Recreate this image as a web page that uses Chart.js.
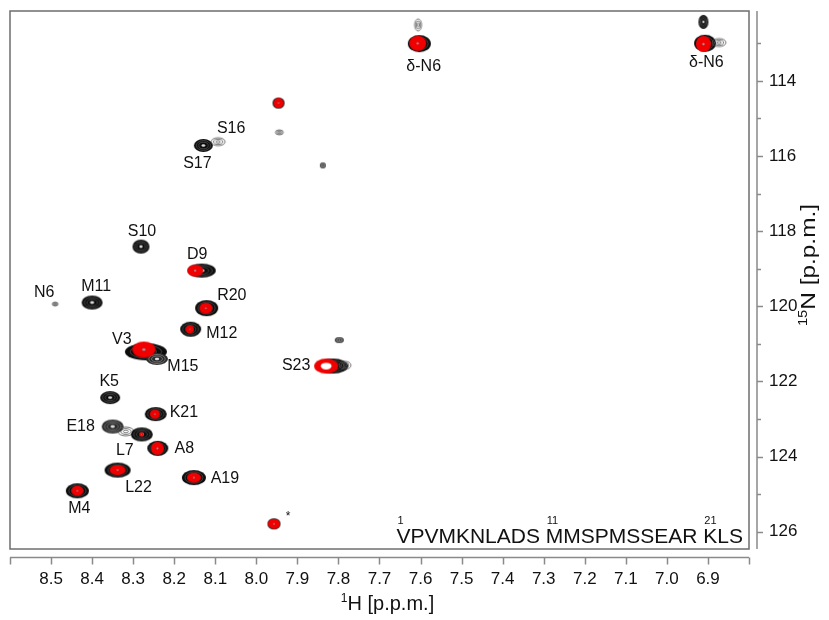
<!DOCTYPE html>
<html>
<head>
<meta charset="utf-8">
<script src="https://cdn.jsdelivr.net/npm/chart.js@4.4.0/dist/chart.umd.min.js"></script>
<style>
  html, body { margin: 0; padding: 0; background: #fff; }
  #wrap { width: 829px; height: 620px; }
</style>
</head>
<body>
<div id="wrap"><canvas id="mycanvas" width="829" height="620"></canvas></div>
<script>
// axis ranges (ppm)
var hRange = [6.8, 8.6];
var nRange = [112.14, 126.46];

// black spectrum peaks: 1H and 15N shifts (ppm)
var blackH = [7.603, 7.606, 6.907, 6.911, 6.873, 7.946, 7.944, 7.838, 8.129, 8.093,
              8.281, 8.133, 8.490, 8.400, 8.121, 8.160, 8.269, 8.242, 7.798, 7.813,
              7.784, 8.356, 8.245, 8.350, 8.318, 8.279, 8.240, 8.338, 8.152, 8.436, 7.957];
var blackN = [113.01, 112.51, 113.00, 112.43, 112.98, 114.59, 115.37, 116.25, 115.72, 115.62,
              118.41, 119.05, 119.94, 119.90, 120.05, 120.61, 121.21, 121.40, 120.90, 121.59,
              121.57, 122.43, 122.87, 123.20, 123.33, 123.41, 123.78, 124.36, 124.56, 124.91, 125.79];

// red spectrum peaks
var redH = [7.607, 6.911, 7.946, 8.149, 8.123, 8.162, 8.274, 7.830, 8.247, 8.280, 8.241, 8.338, 8.152, 8.436, 7.957];
var redN = [113.00, 113.02, 114.59, 119.05, 120.05, 120.61, 121.15, 121.59, 122.87, 123.41, 123.78, 124.36, 124.56, 124.91, 125.79];

// assignments
var resName = ['δ-N6', 'δ-N6', 'S16', 'S17', 'S10', 'D9', 'N6', 'M11', 'R20', 'M12', 'V3',
               'M15', 'S23', 'K5', 'K21', 'E18', 'L7', 'A8', 'L22', 'A19', 'M4', '*'];
var resH = [7.607, 6.911, 8.093, 8.129, 8.281, 8.149, 8.490, 8.400, 8.123, 8.162, 8.274,
            8.247, 7.830, 8.356, 8.247, 8.350, 8.279, 8.241, 8.338, 8.152, 8.436, 7.957];
var resN = [113.00, 113.02, 115.62, 115.72, 118.41, 119.05, 119.94, 119.90, 120.05, 120.61, 121.15,
            121.38, 121.59, 122.43, 122.87, 123.20, 123.41, 123.78, 124.36, 124.56, 124.91, 125.79];

var sequence = 'VPVMKNLADS MMSPMSSEAR KLS';
var seqMarks = [1, 11, 21];

// ---- look of the peaks (pixel sizes) ----
var blackShape = [[23,17,'dark'],[7,12,'light'],[22,17,'dark'],[10,14,'dark'],[14,8,'light'],
                  [12,11,'dark'],[8,5,'light'],[6,6,'mid'],[19,13,'dark'],[14,8,'light'],
                  [17,14,'dark'],[28,14,'dark'],[6,4,'light'],[21,14,'dark'],[23,16,'dark'],
                  [21,15,'dark'],[42,17,'dark'],[22,12,'mid'],[9,6,'mid'],[30,15,'dark'],
                  [12,8,'light'],[20,13,'dark'],[22,14,'dark'],[22,14,'mid'],[16,9,'light'],
                  [22,14,'dark'],[21,15,'dark'],[26,15,'dark'],[24,15,'dark'],[23,15,'dark'],[13,11,'dark']];
var redShape = [[17,15,'red'],[15,16,'red'],[10,10,'red'],[16,12,'red'],[13,11,'red'],
                [8,8,'red'],[23,16,'red'],[24,15,'ring'],[10,9,'red'],[5,4,'red'],
                [13,13,'red'],[16,10,'red'],[14,10,'red'],[12,10,'red'],[12,10,'red']];
var labelOffset = [[6,23],[3,19],[13,-13],[-6,18],[1,-15],[2,-16],[-11,-11],[4,-16],[26,-13],[32,4],[-22,-10],
                   [28,8],[-30,0],[-1,-16],[29,-2],[-32,0],[-17,16],[27,0],[21,17],[31,1],[2,18],[14,-7]];

var FONT = 'Arial, "Liberation Sans", sans-serif';

function makeBlob(w, h, kind) {
  var c = document.createElement('canvas');
  c.width = w + 4; c.height = h + 4;
  var g = c.getContext('2d');
  var cx = c.width / 2, cy = c.height / 2;
  function ell(s) { g.beginPath(); g.ellipse(cx, cy, Math.max(w * s / 2, 0.5), Math.max(h * s / 2, 0.5), 0, 0, Math.PI * 2); }
  if (kind === 'dark' || kind === 'mid') {
    ell(1); g.fillStyle = kind === 'dark' ? '#0c0c0c' : '#2a2a2a'; g.fill();
    g.strokeStyle = kind === 'dark' ? '#6a6a6a' : '#9a9a9a'; g.lineWidth = 0.6;
    [0.75, 0.5].forEach(function (s) { ell(s); g.stroke(); });
    ell(0.2); g.fillStyle = '#dddddd'; g.fill();
  } else if (kind === 'light') {
    g.strokeStyle = '#555'; g.lineWidth = 0.8;
    [1, 0.65, 0.3].forEach(function (s) { ell(s); g.stroke(); });
  } else if (kind === 'red') {
    ell(1); g.fillStyle = '#f00000'; g.fill();
    ell(0.15); g.fillStyle = '#999'; g.fill();
  } else if (kind === 'ring') {
    ell(1); g.fillStyle = '#f00000'; g.fill();
    ell(0.45); g.fillStyle = '#ffffff'; g.fill();
  }
  return c;
}

var blackImgs = blackShape.map(function (s) { return makeBlob(s[0], s[1], s[2]); });
var redImgs = redShape.map(function (s) { return makeBlob(s[0], s[1], s[2]); });

function toPts(xs, ys) {
  return xs.map(function (x, i) { return { x: x, y: ys[i] }; });
}

var spectrumDecor = {
  id: 'spectrumDecor',
  beforeDatasetsDraw: function (chart) {
    var ctx = chart.ctx, a = chart.chartArea;
    ctx.save();
    ctx.strokeStyle = '#6e6e6e';
    ctx.lineWidth = 1.5;
    ctx.strokeRect(a.left, a.top, a.right - a.left, a.bottom - a.top);
    ctx.restore();
  },
  afterDatasetsDraw: function (chart) {
    var ctx = chart.ctx, a = chart.chartArea;
    var xs = chart.scales.x, ys = chart.scales.y;
    ctx.save();
    // assignment labels
    ctx.fillStyle = '#111';
    ctx.textAlign = 'center';
    ctx.textBaseline = 'middle';
    resName.forEach(function (name, i) {
      var px = xs.getPixelForValue(resH[i]) + labelOffset[i][0];
      var py = ys.getPixelForValue(resN[i]) + labelOffset[i][1];
      ctx.font = (name === '*' ? '12px ' : '16px ') + FONT;
      ctx.fillText(name, px, py);
    });
    // sequence with residue numbers
    ctx.font = '21px ' + FONT;
    ctx.textAlign = 'left';
    ctx.textBaseline = 'alphabetic';
    var seqW = ctx.measureText(sequence).width;
    var sx = a.right - 6 - seqW, sy = a.bottom - 6;
    ctx.fillText(sequence, sx, sy);
    seqMarks.forEach(function (n) {
      var idx = (n - 1) + Math.floor((n - 1) / 10);
      ctx.font = '21px ' + FONT;
      var off = ctx.measureText(sequence.slice(0, idx)).width;
      ctx.font = '11px ' + FONT;
      ctx.fillText(String(n), sx + off + 1, sy - 19);
    });
    ctx.restore();
  },
  afterDraw: function (chart) {
    var ctx = chart.ctx, a = chart.chartArea;
    var xs = chart.scales.x, ys = chart.scales.y;
    ctx.save();
    ctx.strokeStyle = '#8a8a8a';
    ctx.lineWidth = 1.5;
    // bottom axis
    var by = a.bottom + 8.5;
    ctx.beginPath();
    ctx.moveTo(a.left, by); ctx.lineTo(a.right, by);
    xs.ticks.forEach(function (t) {
      var px = Math.round(xs.getPixelForValue(t.value)) + 0.5;
      ctx.moveTo(px, by); ctx.lineTo(px, by + 7);
    });
    ctx.stroke();
    // right axis
    var rx = a.right + 8;
    ctx.beginPath();
    ctx.moveTo(rx, a.top); ctx.lineTo(rx, a.bottom);
    ys.ticks.forEach(function (t) {
      var py = Math.round(ys.getPixelForValue(t.value)) + 0.5;
      var len = Math.round(t.value) % 2 === 0 ? 6 : 4;
      ctx.moveTo(rx, py); ctx.lineTo(rx + len, py);
    });
    ctx.stroke();
    // axis titles
    ctx.fillStyle = '#111';
    ctx.textBaseline = 'alphabetic';
    ctx.textAlign = 'left';
    function titleWithSup(sup, rest, cx, cy, size) {
      var small = Math.round(size * 0.62);
      ctx.font = small + 'px ' + FONT;
      var w1 = ctx.measureText(sup).width;
      ctx.font = size + 'px ' + FONT;
      var w2 = ctx.measureText(rest).width;
      var x0 = cx - (w1 + w2) / 2;
      ctx.font = small + 'px ' + FONT;
      ctx.fillText(sup, x0, cy - size * 0.06);
      ctx.font = size + 'px ' + FONT;
      ctx.fillText(rest, x0 + w1, cy + size * 0.36);
    }
    titleWithSup('1', 'H [p.p.m.]', (a.left + a.right) / 2 + 8, a.bottom + 54, 20);
    ctx.translate(a.right + 59, (a.top + a.bottom) / 2 - 15);
    ctx.rotate(-Math.PI / 2);
    ctx.scale(1.22, 1);
    titleWithSup('15', 'N [p.p.m.]', 0, 0, 20);
    ctx.restore();
  }
};

var chartdata = {
  datasets: [
    {
      label: 'black',
      data: toPts(blackH, blackN),
      pointStyle: blackImgs,
      pointRadius: 6,
      order: 2
    },
    {
      label: 'red',
      data: toPts(redH, redN),
      pointStyle: redImgs,
      pointRadius: 6,
      order: 1
    }
  ]
};

var ctx = document.getElementById('mycanvas');
var spectrum = new Chart(ctx, {
  type: 'scatter',
  data: chartdata,
  plugins: [spectrumDecor],
  options: {
    responsive: false,
    animation: false,
    layout: { padding: { left: 10, top: 11, right: 0, bottom: 0 } },
    plugins: { legend: { display: false }, tooltip: { enabled: false } },
    scales: {
      x: {
        type: 'linear',
        reverse: true,
        min: hRange[0],
        max: hRange[1],
        grid: { display: false, drawTicks: false },
        border: { display: false },
        ticks: {
          stepSize: 0.1,
          padding: 20,
          color: '#111',
          font: { size: 17, family: FONT },
          maxRotation: 0,
          autoSkip: false,
          callback: function (v) {
            if (v > 8.55 || v < 6.85) return '';
            return v.toFixed(1);
          }
        },
        afterFit: function (s) { s.height = 71; s.paddingLeft = 0; s.paddingRight = 0; }
      },
      y: {
        type: 'linear',
        position: 'right',
        reverse: true,
        min: nRange[0],
        max: nRange[1],
        grid: { display: false, drawTicks: false },
        border: { display: false },
        ticks: {
          stepSize: 1,
          includeBounds: false,
          padding: 20,
          color: '#111',
          font: { size: 17, family: FONT },
          autoSkip: false,
          callback: function (v) {
            var r = Math.round(v);
            return r % 2 === 0 ? String(r) : '';
          }
        },
        afterFit: function (s) { s.width = 80; s.paddingTop = 0; s.paddingBottom = 0; }
      }
    }
  }
});
</script>
</body>
</html>
